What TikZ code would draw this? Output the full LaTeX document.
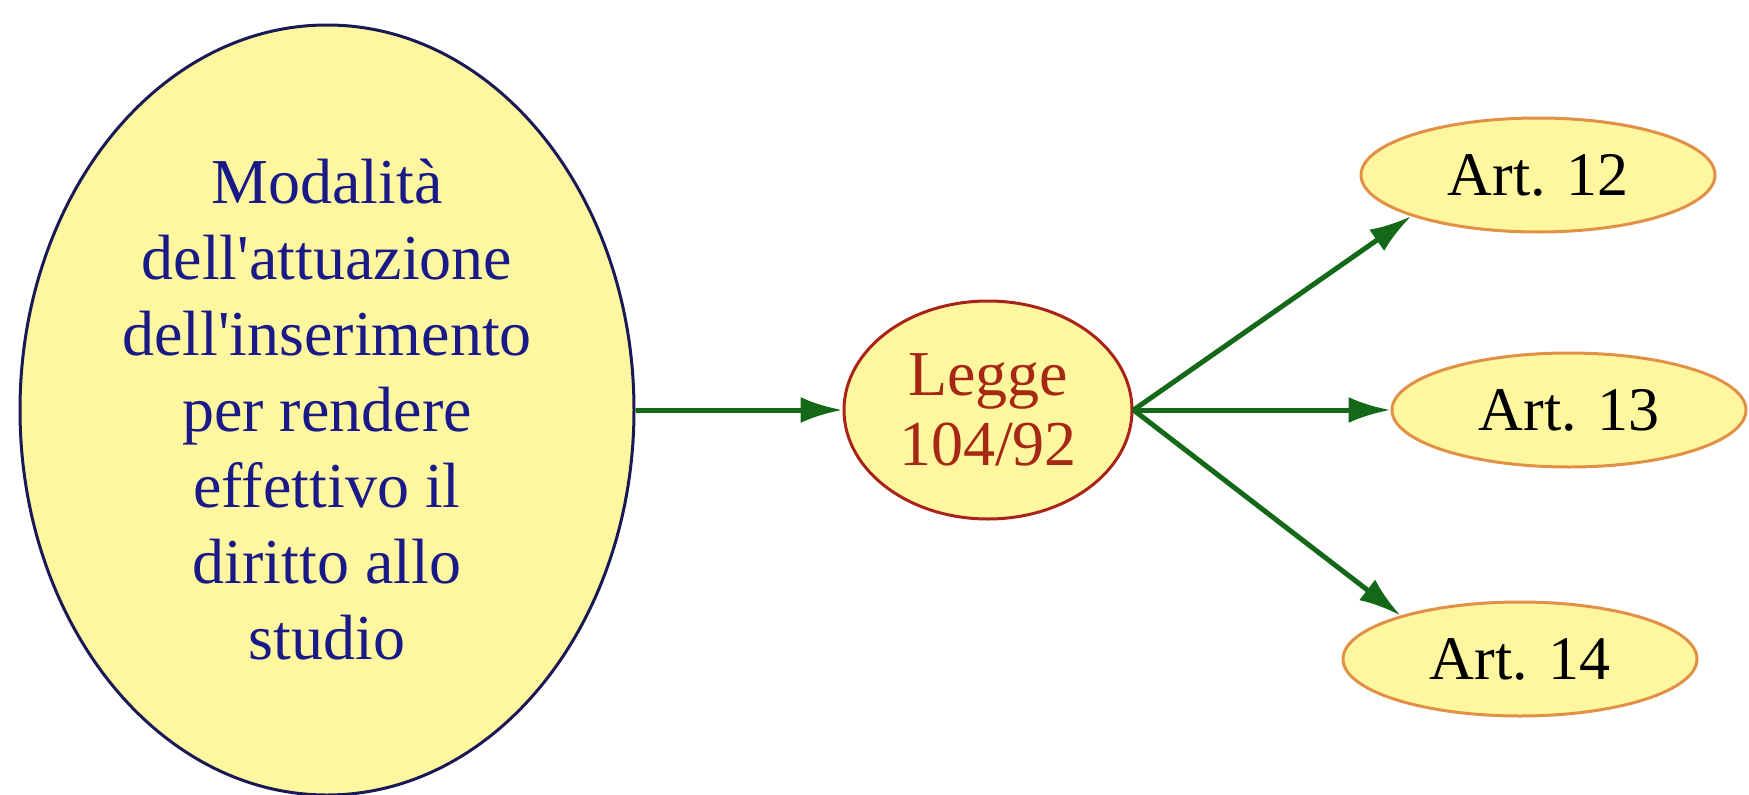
\documentclass[tikz,border=0pt]{standalone}
\usepackage{fontspec}
\newfontfamily\tnr{Liberation Serif}
\usetikzlibrary{shapes.geometric,arrows.meta}
\definecolor{fillyel}{RGB}{255,247,160}
\definecolor{bigborder}{RGB}{25,25,85}
\definecolor{bigtext}{RGB}{25,25,135}
\definecolor{leggeborder}{RGB}{170,35,25}
\definecolor{leggetext}{RGB}{165,40,20}
\definecolor{artborder}{RGB}{225,145,70}
\definecolor{arrgreen}{RGB}{20,105,25}
\tikzset{
  ell/.style={ellipse, fill=fillyel, line width=3pt, inner sep=0pt, align=center},
  bignode/.style={ell, draw=bigborder, text=bigtext, minimum width=614pt, minimum height=770pt,
    font=\tnr\fontsize{64}{76}\selectfont},
  leggenode/.style={ell, draw=leggeborder, text=leggetext, minimum width=288pt, minimum height=218pt,
    font=\tnr\fontsize{64}{70}\selectfont},
  artnode/.style={ell, draw=artborder, text=black, minimum width=354pt, minimum height=114pt,
    font=\tnr\fontsize{62}{64}\selectfont},
  arr/.style={draw=arrgreen, line width=5pt, -{Latex[length=42pt,width=26pt]}}
}
\begin{document}
\begin{tikzpicture}[x=1pt,y=-1pt]
\useasboundingbox (0,0) rectangle (1749,795);
\node[bignode] (big) at (327,410) {Modalità\\dell'attuazione\\dell'inserimento\\per rendere\\effettivo il\\diritto allo\\studio};
\node[leggenode] (legge) at (988,410) {Legge\\104/92};
\node[artnode] (a12) at (1538,175) {Art. 12};
\node[artnode] (a13) at (1569,410) {Art. 13};
\node[artnode] (a14) at (1520,659) {Art. 14};
\draw[arr] (big.east) -- (legge.west);
\draw[arr] (legge.east) -- (a12.198);
\draw[arr] (legge.east) -- (a13.west);
\draw[arr] (legge.east) -- (a14.160);
\end{tikzpicture}
\end{document}
